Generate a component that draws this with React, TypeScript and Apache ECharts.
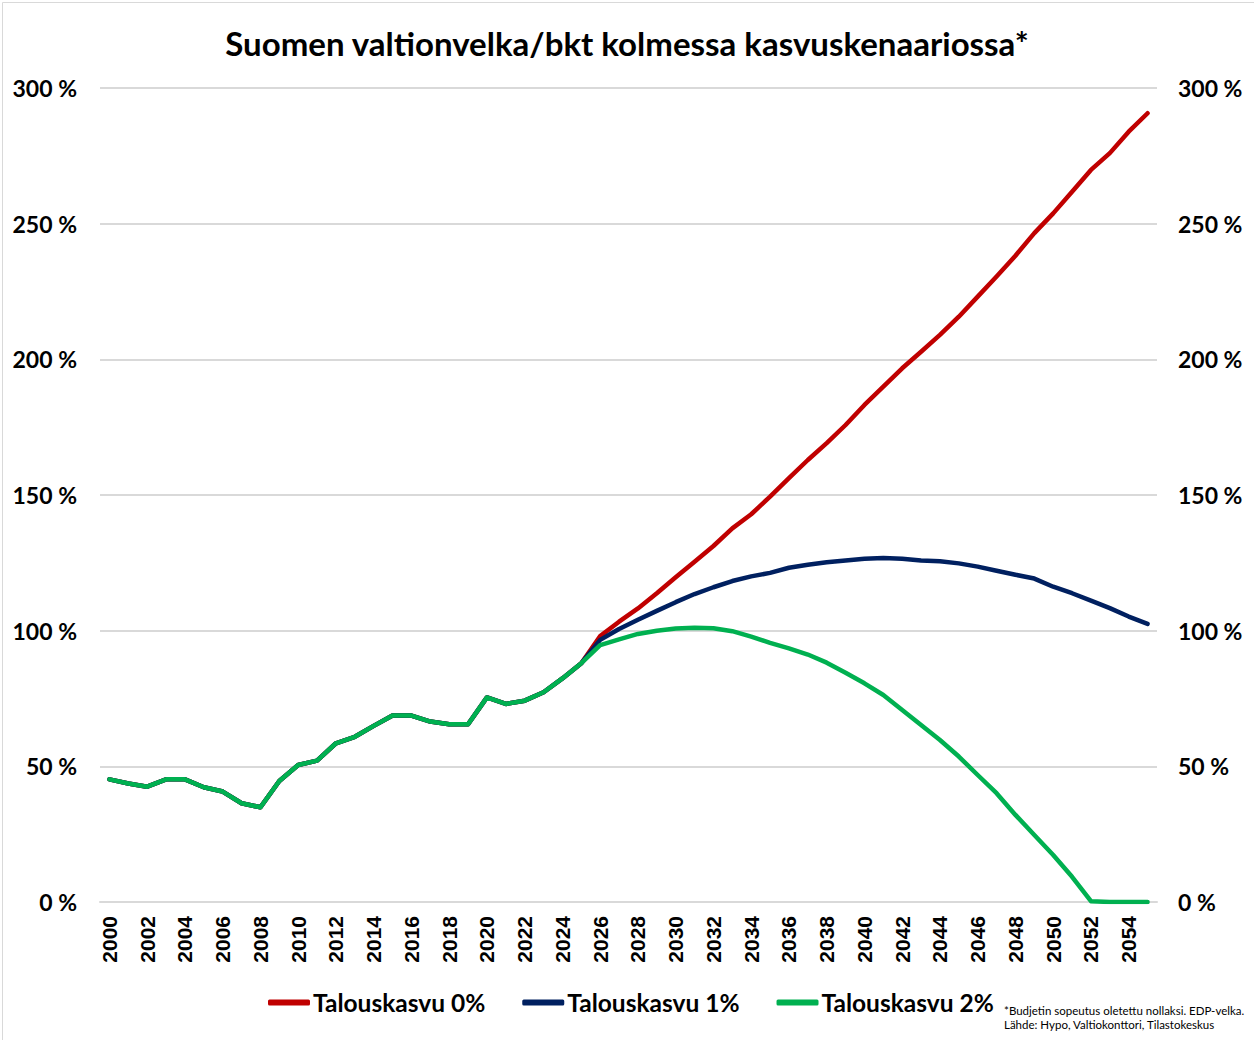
import React, { useEffect, useRef } from "react";
import * as echarts from "echarts";

const years: string[] = [];
for (let y = 2000; y <= 2055; y++) years.push(String(y));

const history = [45.2, 43.7, 42.5, 45.2, 45.2, 42.3, 40.7, 36.4, 34.9, 44.6, 50.5, 52.1, 58.5, 60.9, 64.9, 68.7, 68.7, 66.5, 65.5, 65.5, 75.4, 73.0, 74.2, 77.3, 82.4, 88.0];

const growth0 = [98.0, 103.3, 108.2, 113.8, 119.7, 125.4, 131.2, 137.7, 142.9, 149.4, 156.2, 162.9, 169.1, 175.8, 183.2, 189.9, 196.7, 202.8, 209.0, 215.7, 223.1, 230.5, 238.2, 246.5, 253.8, 261.8, 269.8, 276.0, 283.9, 290.7];

const growth1 = [96.6, 100.6, 104.0, 107.3, 110.5, 113.5, 116.0, 118.3, 120.0, 121.3, 123.2, 124.3, 125.2, 125.9, 126.5, 126.8, 126.5, 125.9, 125.6, 124.8, 123.6, 122.1, 120.6, 119.2, 116.2, 113.8, 111.1, 108.3, 105.2, 102.5];

const growth2 = [94.7, 96.8, 98.8, 100.0, 100.8, 101.1, 100.9, 99.8, 97.8, 95.5, 93.5, 91.2, 88.2, 84.5, 80.6, 76.3, 70.8, 65.2, 59.7, 53.6, 46.8, 40.1, 32.1, 24.7, 17.3, 9.3, 0.3, 0, 0, 0];

const seriesNames = ["Talouskasvu 0%", "Talouskasvu 1%", "Talouskasvu 2%"];
const seriesColors = ["#c00000", "#002060", "#00b050"];
const yTicks = { min: 0, max: 300, interval: 50 };

const title = "Suomen valtionvelka/bkt kolmessa kasvuskenaariossa*";
const footnote1 = "*Budjetin sopeutus oletettu nollaksi. EDP-velka.";
const footnote2 = "Lähde: Hypo, Valtiokonttori, Tilastokeskus";

const FONT = "Lato, 'Open Sans', sans-serif";

export default function App() {
  const ref = useRef<HTMLDivElement>(null);
  useEffect(() => {
    document.body.style.margin = "0";
    if (!ref.current) return;
    const chart = echarts.init(ref.current, undefined, { renderer: "svg" });
    const allData = [growth0, growth1, growth2].map((g) => [...history, ...g]);
    const yLabel = {
      formatter: "{value} %",
      fontFamily: FONT,
      fontWeight: "bold" as const,
      fontSize: 23,
      color: "#000",
    };
    chart.setOption({
      animation: false,
      backgroundColor: "#fff",
      title: {
        text: title,
        left: "center",
        top: 21,
        textStyle: { fontFamily: FONT, fontWeight: "bold", fontSize: 33, color: "#000" },
      },
      grid: { left: 100, right: 97, top: 88, bottom: 138, containLabel: false },
      legend: {
        data: seriesNames,
        left: 268,
        top: 990,
        icon: "roundRect",
        itemWidth: 42,
        itemHeight: 6,
        itemGap: 37,
        padding: 0,
        textStyle: { fontFamily: FONT, fontWeight: "bold", fontSize: 24.5, color: "#000", padding: [0, 0, 0, -2] },
      },
      xAxis: {
        type: "category",
        data: years,
        boundaryGap: true,
        axisTick: { show: false },
        axisLine: { show: true, lineStyle: { color: "#d9d9d9", width: 2 } },
        axisLabel: {
          interval: 1,
          rotate: 90,
          margin: 14,
          fontFamily: "'Liberation Sans', Arial, sans-serif",
          fontWeight: "bold",
          fontSize: 21,
          color: "#000",
        },
        splitLine: { show: false },
      },
      yAxis: [
        {
          type: "value",
          ...yTicks,
          position: "left",
          axisLine: { show: false },
          axisTick: { show: false },
          axisLabel: { ...yLabel, margin: 23 },
          splitLine: { show: true, lineStyle: { color: "#d9d9d9", width: 2 } },
        },
        {
          type: "value",
          ...yTicks,
          position: "right",
          axisLine: { show: false },
          axisTick: { show: false },
          axisLabel: { ...yLabel, margin: 21 },
          splitLine: { show: false },
        },
      ],
      series: allData.map((d, i) => ({
        name: seriesNames[i],
        type: "line",
        data: d,
        symbol: "none",
        z: 2 + i,
        itemStyle: { color: seriesColors[i] },
        lineStyle: { color: seriesColors[i], width: 4.5, cap: "round", join: "round" },
      })),
      graphic: [
        {
          type: "rect",
          left: 0,
          top: 0,
          shape: { x: 0.5, y: 0.5, width: 1253, height: 1039 },
          style: { fill: "none", stroke: "#d9d9d9", lineWidth: 1 },
          silent: true,
        },
        {
          type: "text",
          left: 1004,
          top: 1004,
          style: { text: footnote1, fontFamily: FONT, fontSize: 11.5, fill: "#000" },
        },
        {
          type: "text",
          left: 1004,
          top: 1018,
          style: { text: footnote2, fontFamily: FONT, fontSize: 11.5, fill: "#000" },
        },
      ],
    });
    return () => chart.dispose();
  }, []);
  return <div ref={ref} style={{ width: 1254, height: 1040 }} />;
}
